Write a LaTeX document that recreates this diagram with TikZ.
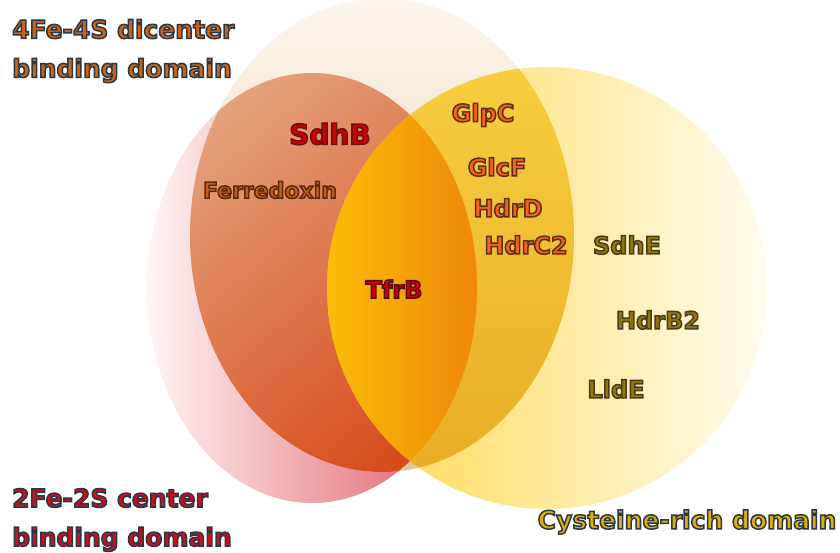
\documentclass[tikz,border=0pt]{standalone}
\usepackage{fontspec}
\setmainfont{DejaVu Sans}
\definecolor{rustfill}{HTML}{D0640C}
\definecolor{redfill}{HTML}{D40C14}
\definecolor{goldfill}{HTML}{E0B000}
\definecolor{sdhred}{HTML}{D00000}
\definecolor{ferfill}{HTML}{CC5E10}
\definecolor{hdrfill}{HTML}{F86418}
\definecolor{olivefill}{HTML}{947800}
\newcommand\outl[3]{\textcolor{#1}{\special{pdf:literal direct 2 Tr 1.5 w #2 RG}#3\special{pdf:literal direct 0 Tr}}}

\begin{document}
\begin{tikzpicture}[x=1pt,y=-1pt,
  gene/.style={font=\bfseries\fontsize{24}{24}\selectfont,inner sep=0pt},
  domlabel/.style={font=\bfseries\fontsize{25}{39}\selectfont,align=left,inner sep=0pt}]
\useasboundingbox (0,0) rectangle (840,552);
\clip (0,0) rectangle (840,552);
% red, beige, yellow
\shade[left color=red!4, right color={rgb,255:red,222;green,84;blue,96}] (312,288) ellipse [x radius=165, y radius=215];
\shade[top color={rgb,255:red,252;green,246;blue,238}, bottom color={rgb,255:red,230;green,196;blue,156}] (382,235) ellipse [x radius=192, y radius=237];
\shade[left color={rgb,255:red,255;green,214;blue,70}, right color={rgb,255:red,255;green,252;blue,240}] (547,288) ellipse [x radius=220, y radius=221];
\begin{scope}
\clip (382,235) ellipse [x radius=192, y radius=237];
\clip (312,288) ellipse [x radius=165, y radius=215];
\shade[top color={rgb,255:red,228;green,160;blue,122}, middle color={rgb,255:red,220;green,112;blue,48}, bottom color={rgb,255:red,214;green,76;blue,28}, shading angle=40] (170,60) rectangle (490,480);
\end{scope}
\begin{scope}
\clip (382,235) ellipse [x radius=192, y radius=237];
\clip (547,288) ellipse [x radius=220, y radius=221];
\shade[top color={rgb,255:red,248;green,206;blue,64}, bottom color={rgb,255:red,232;green,172;blue,36}] (320,60) rectangle (580,480);
\end{scope}
\begin{scope}
\clip (312,288) ellipse [x radius=165, y radius=215];
\clip (547,288) ellipse [x radius=220, y radius=221];
\fill[color={rgb,255:red,238;green,176;blue,48}] (320,60) rectangle (480,510);
\end{scope}
\begin{scope}
\clip (382,235) ellipse [x radius=192, y radius=237];
\clip (312,288) ellipse [x radius=165, y radius=215];
\clip (547,288) ellipse [x radius=220, y radius=221];
\shade[left color={rgb,255:red,250;green,188;blue,8}, right color={rgb,255:red,238;green,136;blue,8}] (328,60) rectangle (478,480);
\end{scope}
\node[domlabel,anchor=west] at (12,51) (fefour) {\outl{rustfill}{0.153 0.220 0.290}{4Fe-4S dicenter}\\\outl{rustfill}{0.153 0.220 0.290}{binding domain}};
\node[domlabel,anchor=west] at (12,520) (fetwo) {\outl{redfill}{0.153 0.220 0.290}{2Fe-2S center}\\\outl{redfill}{0.153 0.220 0.290}{binding domain}};
\node[domlabel] at (687,522) (cys) {\outl{goldfill}{0.153 0.220 0.290}{Cysteine-rich domain}};
\node[gene,font=\bfseries\fontsize{28}{28}\selectfont] at (330,134) (sdhb) {\outl{sdhred}{0.416 0.063 0.063}{SdhB}};
\node[gene,font=\bfseries\fontsize{22}{22}\selectfont] at (270,190) (ferredoxin) {\outl{ferfill}{0.353 0.165 0.063}{Ferredoxin}};
\node[gene] at (483,115) (glpc) {\outl{hdrfill}{0.353 0.188 0.094}{GlpC}};
\node[gene] at (497,167) (glcf) {\outl{hdrfill}{0.353 0.188 0.094}{GlcF}};
\node[gene] at (508,208) (hdrd) {\outl{hdrfill}{0.353 0.188 0.094}{HdrD}};
\node[gene] at (526,245) (hdrctwo) {\outl{hdrfill}{0.353 0.188 0.094}{HdrC2}};
\node[gene] at (394,289) (tfrb) {\outl{sdhred}{0.314 0.063 0.063}{TfrB}};
\node[gene] at (627,245) (sdhe) {\outl{olivefill}{0.290 0.227 0.125}{SdhE}};
\node[gene] at (658,320) (hdrbtwo) {\outl{olivefill}{0.290 0.227 0.125}{HdrB2}};
\node[gene] at (616,389) (llde) {\outl{olivefill}{0.290 0.227 0.125}{LldE}};
\end{tikzpicture}
\end{document}
